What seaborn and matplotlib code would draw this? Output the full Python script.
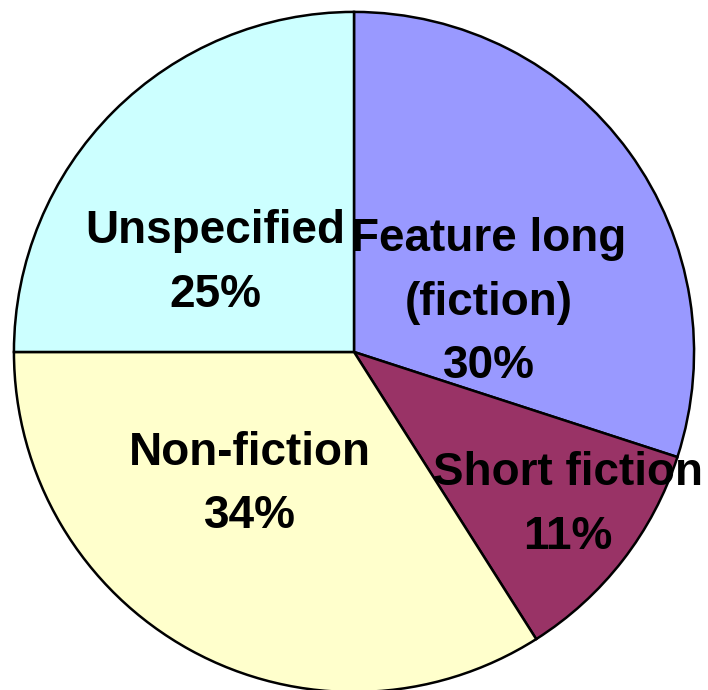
import matplotlib
matplotlib.use("Agg")
import matplotlib.pyplot as plt
import seaborn as sns

sns.set_theme(style="white")
plt.rcParams['font.family'] = ['Liberation Sans', 'DejaVu Sans']

categories = ["Feature long\n(fiction)", "Short fiction", "Non-fiction", "Unspecified"]
percent = [30, 11, 34, 25]
colors = ["#9999FF", "#993366", "#FFFFCC", "#CCFFFF"]
label_pos = [(0.397, 0.145), (0.629, -0.449), (-0.306, -0.39), (-0.409, 0.261)]

fig = plt.figure(figsize=(7.08, 6.90), dpi=100)
ax = fig.add_axes([0, 0, 1, 1])
ax.pie(percent, colors=colors, startangle=90, counterclock=False,
       radius=1.0, center=(0, 0),
       wedgeprops=dict(edgecolor="black", linewidth=1.8))
for cat, p, (x, y) in zip(categories, percent, label_pos):
    ax.text(x, y, f"{cat}\n{p}%", ha="center", va="center",
            fontsize=33, fontweight="bold", color="black", linespacing=1.58)
ax.set_xlim(-1.041, 1.041)
ax.set_ylim(-0.994, 1.035)
ax.set_aspect("equal")
ax.axis("off")
fig.savefig("out.png", dpi=100)
